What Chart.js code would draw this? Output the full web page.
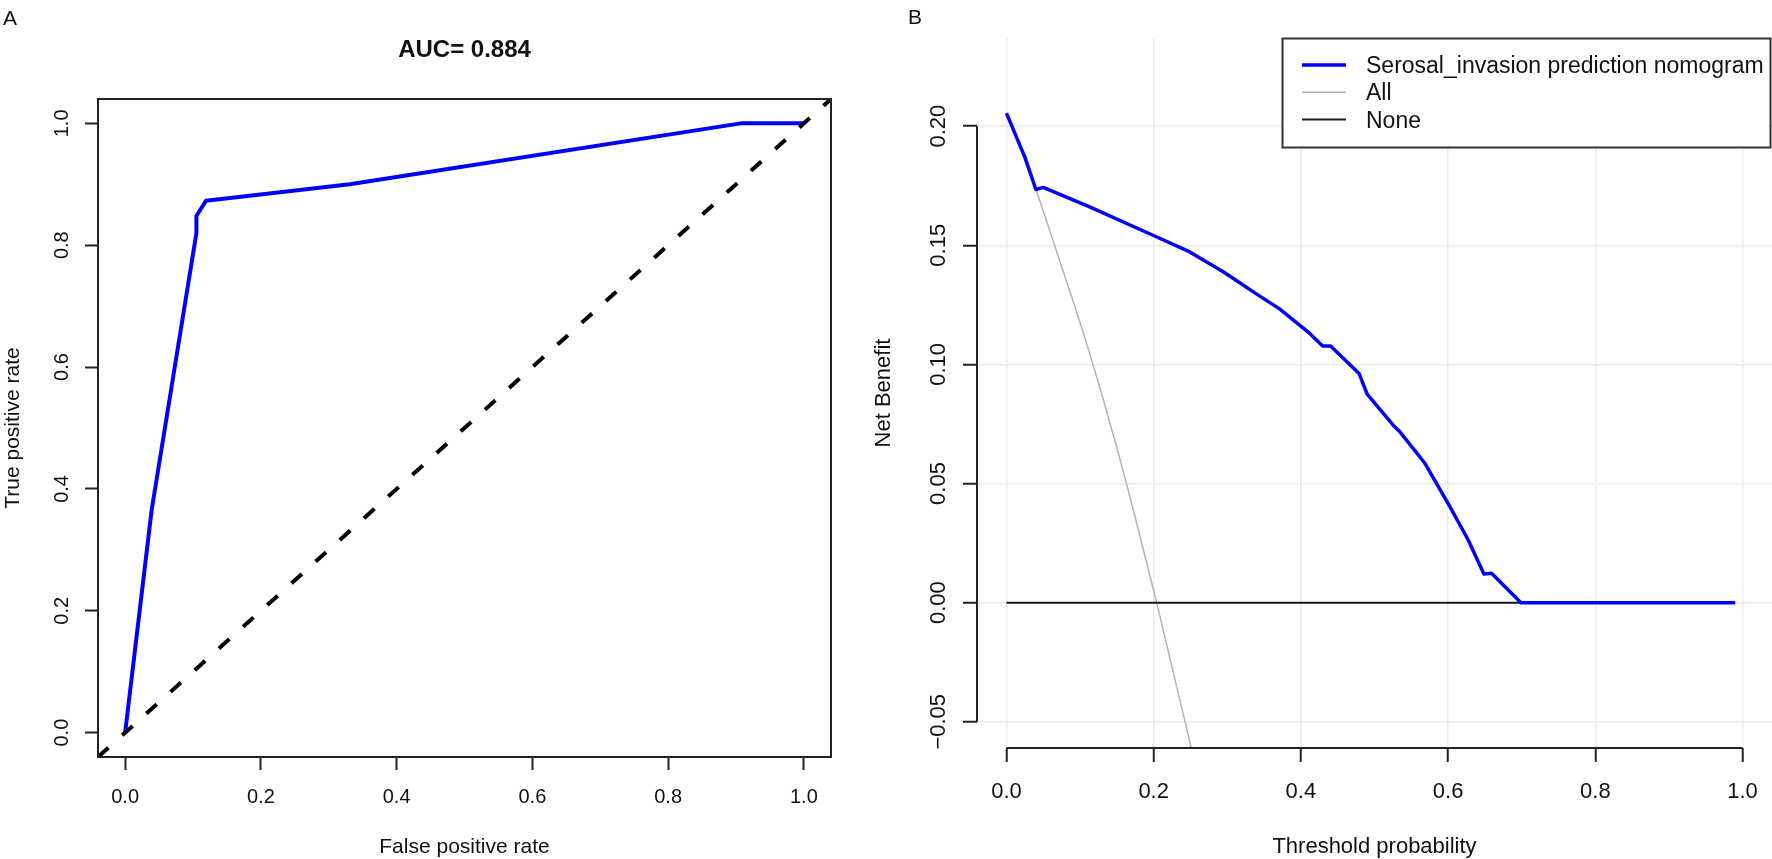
<!DOCTYPE html>
<html>
<head>
<meta charset="utf-8">
<title>ROC and DCA</title>
<script src="https://cdn.jsdelivr.net/npm/chart.js@4.4.1/dist/chart.umd.min.js"></script>
<style>
  html, body { margin: 0; padding: 0; background: #fff; overflow: hidden; }
  #wrap { position: relative; width: 1772px; height: 859px; }
  #wrap canvas { position: absolute; left: 0; top: 0; }
</style>
</head>
<body>
<div id="wrap">
  <canvas id="rocChart" width="1772" height="859"></canvas>
  <canvas id="dcaChart" width="1772" height="859"></canvas>
</div>
<script>
// --- panel A: ROC curve ---
const rocFpr = [0, 0.039, 0.105, 0.105, 0.119, 0.331, 0.907, 1.0]
const rocTpr = [0, 0.365, 0.820, 0.848, 0.873, 0.900, 1.0, 1.0]
const refLine = [-0.04, 1.04] // abline(0, 1) across the whole box
const rocTicks = [0, 0.2, 0.4, 0.6, 0.8, 1.0]
const rocTickLabels = ["0.0", "0.2", "0.4", "0.6", "0.8", "1.0"]
const aucText = "AUC= 0.884"

// --- panel B: decision curve ---
const nomoThresh = [0, 0.025, 0.040, 0.050, 0.113, 0.199, 0.249, 0.2945, 0.340, 0.3715, 0.412,
  0.4295, 0.4403, 0.479, 0.490, 0.5254, 0.5345, 0.5685, 0.6024, 0.6273, 0.6486, 0.659, 0.699, 0.99]
const nomoNB = [0.2055, 0.187, 0.1734, 0.1743, 0.1661, 0.1542, 0.1472, 0.1389, 0.1295, 0.1232, 0.113,
  0.1077, 0.1077, 0.0962, 0.0875, 0.0745, 0.0717, 0.0585, 0.0403, 0.0263, 0.0120, 0.0123, 0, 0]
const allThresh = [0, 0.04, 0.07, 0.111, 0.15, 0.204, 0.251]
const allNB = [0.2055, 0.1734, 0.1457, 0.1067, 0.065, 0, -0.061]
const noneThresh = [0, 0.99]
const noneNB = [0, 0]
const dcaXTicks = [0, 0.2, 0.4, 0.6, 0.8, 1.0]
const dcaXTickLabels = ["0.0", "0.2", "0.4", "0.6", "0.8", "1.0"]
const dcaYTicks = [-0.05, 0, 0.05, 0.10, 0.15, 0.20]
const dcaYTickLabels = ["\u22120.05", "0.00", "0.05", "0.10", "0.15", "0.20"]
const legendLabels = ["Serosal_invasion prediction nomogram", "All", "None"]
const legendColors = ["#0000ff", "#b4b4b4", "#1a1a1a"]
const legendWidths = [3.5, 1.5, 2]

const FONT = "'Liberation Sans', Arial, Helvetica, sans-serif"
const INK = "#111"

const zip = (xs, ys) => xs.map((x, i) => ({ x: x, y: ys[i] }))

function drawText(ctx, text, x, y, font, align, rotate) {
  ctx.save()
  ctx.translate(x, y)
  if (rotate) ctx.rotate(-Math.PI / 2)
  ctx.font = font
  ctx.fillStyle = INK
  ctx.textAlign = align || "center"
  ctx.textBaseline = "alphabetic"
  ctx.fillText(text, 0, 0)
  ctx.restore()
}

function line(ctx, x1, y1, x2, y2, color, width) {
  ctx.save()
  ctx.strokeStyle = color
  ctx.lineWidth = width
  ctx.beginPath()
  ctx.moveTo(x1, y1)
  ctx.lineTo(x2, y2)
  ctx.stroke()
  ctx.restore()
}

const baseOptions = {
  responsive: false,
  animation: false,
  devicePixelRatio: 1,
  events: [],
  plugins: { legend: { display: false }, tooltip: { enabled: false } },
}

// R-like axis: fixed ticks, tick marks outside, labels drawn by our plugin
function rScale(min, max, ticks, fit, grid) {
  return {
    type: "linear",
    min: min,
    max: max,
    afterBuildTicks: (axis) => { axis.ticks = ticks.map((v) => ({ value: v })) },
    afterFit: fit,
    ticks: { display: false },
    border: { display: false },
    grid: Object.assign({ tickLength: 13, tickColor: "#222", tickWidth: 2 }, grid),
  }
}

// box, labels and title for panel A
const rocDecor = {
  id: "rocDecor",
  afterDraw(chart) {
    const { ctx, chartArea: a, scales } = chart
    ctx.save()
    ctx.strokeStyle = "#222"
    ctx.lineWidth = 2
    ctx.strokeRect(a.left, a.top, a.right - a.left, a.bottom - a.top)
    ctx.restore()

    rocTicks.forEach((v, i) => {
      drawText(ctx, rocTickLabels[i], scales.x.getPixelForValue(v), 803, "20px " + FONT)
      drawText(ctx, rocTickLabels[i], 68, scales.y.getPixelForValue(v), "20px " + FONT, "center", true)
    })
    const cx = (a.left + a.right) / 2
    drawText(ctx, aucText, cx, 57, "bold 24px " + FONT)
    drawText(ctx, "False positive rate", cx, 853, "21px " + FONT)
    drawText(ctx, "True positive rate", 19, (a.top + a.bottom) / 2, "21px " + FONT, "center", true)
    drawText(ctx, "A", 3, 25, "21px " + FONT, "left")
  },
}

new Chart(document.getElementById("rocChart"), {
  type: "scatter",
  data: {
    datasets: [
      { data: zip(refLine, refLine), showLine: true, pointRadius: 0,
        borderColor: "#000", borderWidth: 4, borderDash: [14, 18.5] },
      { data: zip(rocFpr, rocTpr), showLine: true, pointRadius: 0,
        borderColor: "#0000ff", borderWidth: 4, borderJoinStyle: "round" },
    ],
  },
  options: Object.assign({}, baseOptions, {
    layout: { autoPadding: false, padding: { left: 0, top: 99, right: 941, bottom: 0 } },
    scales: {
      x: Object.assign(rScale(-0.04, 1.04, rocTicks, (s) => { s.height = 102 },
        { drawOnChartArea: false }), { position: "bottom" }),
      y: Object.assign(rScale(-0.04, 1.04, rocTicks, (s) => { s.width = 98 },
        { drawOnChartArea: false }), { position: "left" }),
    },
  }),
  plugins: [rocDecor],
})

// axes, labels and legend for panel B
const dcaDecor = {
  id: "dcaDecor",
  afterDraw(chart) {
    const { ctx, chartArea: a, scales } = chart
    const x = scales.x, y = scales.y
    line(ctx, x.getPixelForValue(dcaXTicks[0]), a.bottom, x.getPixelForValue(dcaXTicks[dcaXTicks.length - 1]), a.bottom, "#222", 2)
    line(ctx, a.left, y.getPixelForValue(dcaYTicks[0]), a.left, y.getPixelForValue(dcaYTicks[dcaYTicks.length - 1]), "#222", 2)

    dcaXTicks.forEach((v, i) => drawText(ctx, dcaXTickLabels[i], x.getPixelForValue(v), 798, "22px " + FONT))
    dcaYTicks.forEach((v, i) => drawText(ctx, dcaYTickLabels[i], 945, y.getPixelForValue(v), "22px " + FONT, "center", true))

    drawText(ctx, "Threshold probability", (a.left + a.right) / 2, 853, "22px " + FONT)
    drawText(ctx, "Net Benefit", 890, (a.top + a.bottom) / 2, "22px " + FONT, "center", true)
    drawText(ctx, "B", 908, 24, "21px " + FONT, "left")

    // legend box, top right like R's legend("topright")
    const lx = 1282.5, ly = 38.5, lw = 488, lh = 109
    ctx.save()
    ctx.fillStyle = "#fff"
    ctx.fillRect(lx, ly, lw, lh)
    ctx.strokeStyle = "#333"
    ctx.lineWidth = 2
    ctx.strokeRect(lx, ly, lw, lh)
    ctx.restore()
    legendLabels.forEach((label, i) => {
      const ry = 65 + i * 27.2
      line(ctx, 1302, ry, 1346, ry, legendColors[i], legendWidths[i])
      drawText(ctx, label, 1366, ry + 8.2, "23px " + FONT, "left")
    })
  },
}

new Chart(document.getElementById("dcaChart"), {
  type: "scatter",
  data: {
    datasets: [
      { data: zip(nomoThresh, nomoNB), showLine: true, pointRadius: 0,
        borderColor: "#0000ff", borderWidth: 3.5, borderJoinStyle: "round" },
      { data: zip(noneThresh, noneNB), showLine: true, pointRadius: 0,
        borderColor: "#1a1a1a", borderWidth: 2 },
      { data: zip(allThresh, allNB), showLine: true, pointRadius: 0, cubicInterpolationMode: "monotone",
        borderColor: "#b4b4b4", borderWidth: 1.5 },
    ],
  },
  options: Object.assign({}, baseOptions, {
    layout: { autoPadding: false, padding: { left: 0, top: 38, right: 0, bottom: 0 } },
    scales: {
      x: Object.assign(rScale(-0.04, 1.04, dcaXTicks, (s) => { s.height = 111 },
        { color: "#ebebeb", lineWidth: 1.5, tickLength: 14 }), { position: "bottom" }),
      y: Object.assign(rScale(-0.061, 0.237, dcaYTicks, (s) => { s.width = 977 },
        { color: "#ebebeb", lineWidth: 1.5, tickLength: 14 }), { position: "left" }),
    },
  }),
  plugins: [dcaDecor],
})
</script>
</body>
</html>
